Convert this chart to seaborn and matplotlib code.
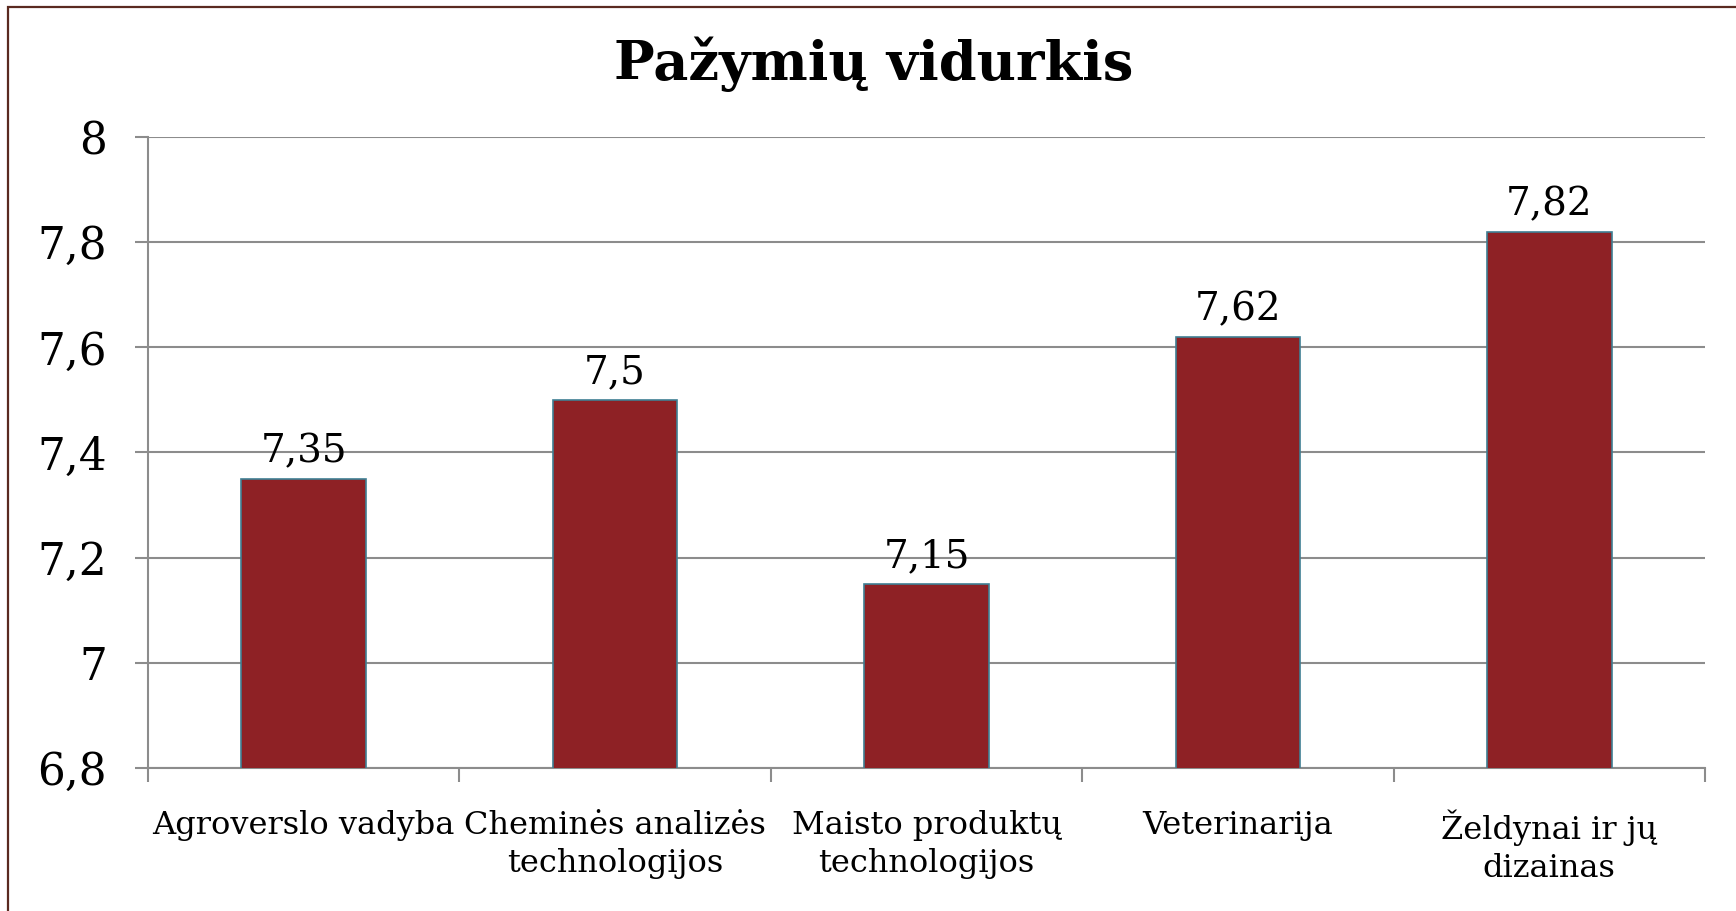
import matplotlib
matplotlib.use('Agg')
import matplotlib.pyplot as plt
from matplotlib.patches import Rectangle
import seaborn as sns

# duomenys
kategorijos = ['Agroverslo vadyba', 'Cheminės analizės\ntechnologijos',
               'Maisto produktų\ntechnologijos', 'Veterinarija',
               'Želdynai ir jų\ndizainas']
vidurkiai = [7.35, 7.5, 7.15, 7.62, 7.82]
etiketes = ['7,35', '7,5', '7,15', '7,62', '7,82']
y_ticks = [6.8, 7.0, 7.2, 7.4, 7.6, 7.8, 8.0]
y_tick_labels = ['6,8', '7', '7,2', '7,4', '7,6', '7,8', '8']

sns.set_style('white')
plt.rcParams['font.family'] = ['DejaVu Serif', 'Liberation Serif']
plt.rcParams['text.color'] = 'black'
plt.rcParams['xtick.color'] = 'black'
plt.rcParams['ytick.color'] = 'black'

fig = plt.figure(figsize=(17.36, 9.11), dpi=100)
ax = fig.add_axes([148 / 1736, 1 - 768 / 911, (1705 - 148) / 1736, (768 - 137) / 911])

sns.barplot(x=kategorijos, y=vidurkiai, color='#8e2125', saturation=1,
            width=0.4, edgecolor='#3f7f93', linewidth=1.2, ax=ax, zorder=3)

ax.set_ylim(6.8, 8.0)
ax.set_xlim(-0.5, 4.5)
ax.set_yticks(y_ticks)
ax.set_yticklabels(y_tick_labels, fontsize=31.5)
ax.yaxis.grid(True, color='#8c8c8c', linewidth=1.5, zorder=0)
ax.tick_params(axis='y', length=9.5, width=1.5, color='#8c8c8c', labelcolor='black',
               pad=20, direction='out', left=True)

ax.set_xticks(range(len(kategorijos)))
ax.set_xticklabels(kategorijos, fontsize=23, linespacing=1.3)
ax.tick_params(axis='x', length=0, pad=30, labelcolor='black')
ax.set_xticks([i - 0.5 for i in range(len(kategorijos) + 1)], minor=True)
ax.tick_params(axis='x', which='minor', length=10, width=1.5, color='#8c8c8c', direction='out', bottom=True)

for s in ['top', 'right']:
    ax.spines[s].set_visible(False)
for s in ['left', 'bottom']:
    ax.spines[s].set_color('#8c8c8c')
    ax.spines[s].set_linewidth(1.5)

for i, (v, t) in enumerate(zip(vidurkiai, etiketes)):
    ax.annotate(t, (i, v), xytext=(0, 6), textcoords='offset points',
                ha='center', va='bottom', fontsize=28, color='black')

fig.suptitle('Pažymių vidurkis', x=0.503, y=0.93, va='center',
             fontsize=39, fontweight='bold', color='black')

# rėmelis
fig.patches.append(Rectangle((8 / 1736, -0.5), 2, 1.5 - 7 / 911, transform=fig.transFigure,
                             fill=False, edgecolor='#5a2a20', linewidth=1.6))

fig.savefig('out.png', dpi=100)
